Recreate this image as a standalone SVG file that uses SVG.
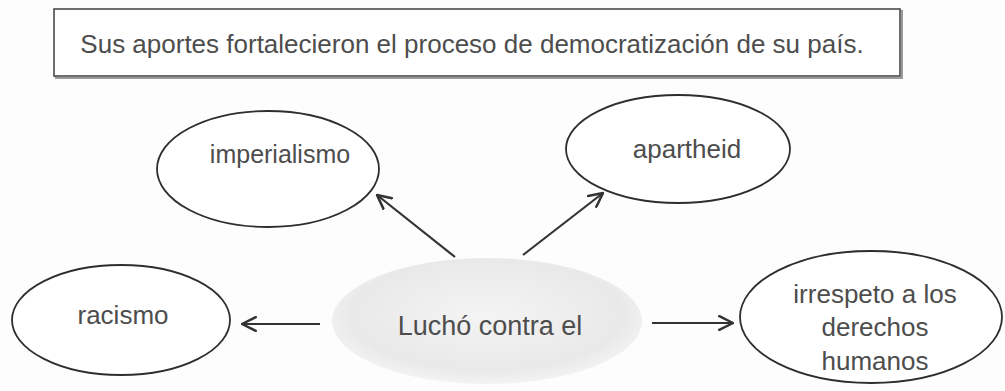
<svg xmlns="http://www.w3.org/2000/svg" width="1005" height="391" viewBox="0 0 1005 391">
  <defs>
    <style>
      .lbl { font-family: "Liberation Sans", Arial, sans-serif; fill: #4d4d4d; text-anchor: middle; }
      .node { fill: #ffffff; stroke: #2e2e2e; stroke-width: 1.8; }
      .conn { stroke: #333333; stroke-width: 2.2; fill: none; marker-end: url(#arr); }
    </style>
    <marker id="arr" viewBox="0 0 14 14" refX="13" refY="7" markerWidth="16" markerHeight="16" markerUnits="userSpaceOnUse" orient="auto">
      <path d="M1,1 L13,7 L1,13" fill="none" stroke="#333333" stroke-width="2.2" stroke-linecap="round" stroke-linejoin="round"/>
    </marker>
    <radialGradient id="cg" cx="0.5" cy="0.45" r="0.55">
      <stop offset="0" stop-color="#f4f4f4"/>
      <stop offset="0.8" stop-color="#e9e9e9"/>
      <stop offset="1" stop-color="#ececec" stop-opacity="0.6"/>
    </radialGradient>
  </defs>
  <rect width="1005" height="391" fill="#fdfdfd"/>

  <g id="header">
    <rect x="56" y="11" width="846" height="67" fill="none" stroke="#9a9a9a" stroke-width="2"/>
    <rect x="54" y="9" width="846" height="67" fill="#ffffff" stroke="#4a4a4a" stroke-width="1.6"/>
    <text class="lbl" x="472" y="53" font-size="26">Sus aportes fortalecieron el proceso de democratización de su país.</text>
  </g>

  <g id="center">
    <ellipse cx="487" cy="321" rx="155" ry="63" fill="url(#cg)"/>
    <text class="lbl" x="490" y="335" font-size="27">Luchó contra el</text>
  </g>

  <g id="imperialismo">
    <ellipse class="node" cx="268" cy="169" rx="111" ry="58"/>
    <text class="lbl" x="280" y="163" font-size="25">imperialismo</text>
  </g>

  <g id="apartheid">
    <ellipse class="node" cx="678" cy="149" rx="112" ry="54"/>
    <text class="lbl" x="687" y="158" font-size="26">apartheid</text>
  </g>

  <g id="racismo">
    <ellipse class="node" cx="121" cy="320" rx="109" ry="55"/>
    <text class="lbl" x="123" y="324" font-size="26">racismo</text>
  </g>

  <g id="irrespeto">
    <ellipse class="node" cx="871" cy="317" rx="131" ry="66"/>
    <text class="lbl" x="875" y="303" font-size="26">irrespeto a los</text>
    <text class="lbl" x="875" y="336" font-size="26">derechos</text>
    <text class="lbl" x="875" y="370" font-size="26">humanos</text>
  </g>

  <g id="connectors">
    <line class="conn" x1="455" y1="257" x2="377" y2="195"/>
    <line class="conn" x1="523" y1="255" x2="603" y2="193"/>
    <line class="conn" x1="320" y1="324" x2="242" y2="324"/>
    <line class="conn" x1="652" y1="323" x2="733" y2="323"/>
  </g>
</svg>
